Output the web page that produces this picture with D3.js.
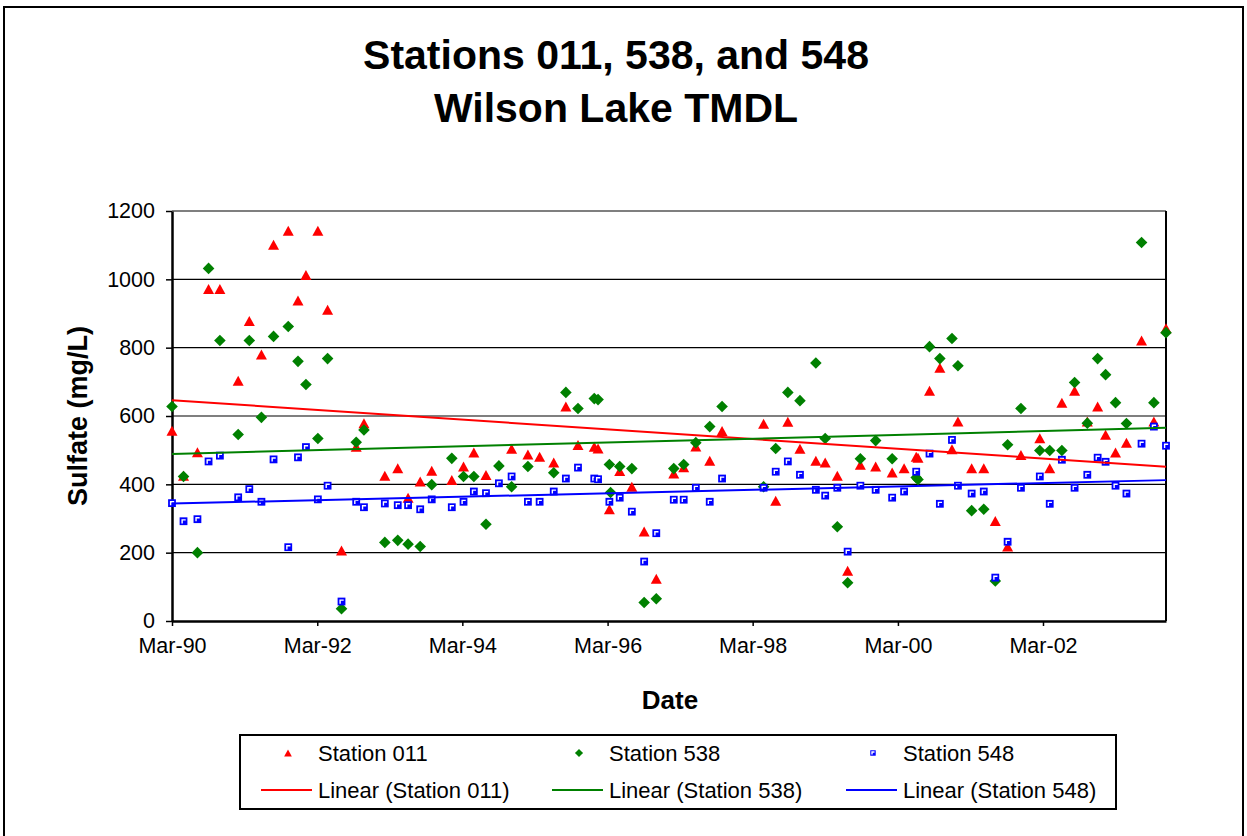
<!DOCTYPE html>
<html>
<head>
<meta charset="utf-8">
<script src="https://cdn.jsdelivr.net/npm/d3@7"></script>
<style>
    body { margin: 0; background: #fff; }
    text { font-family: "Liberation Sans", Arial, sans-serif; fill: #000; }
</style>
</head>
<body>
<script>

    // sample dates (shared by the three stations)
    var dates = [
        "1990-03-01", "1990-04-28", "1990-07-07", "1990-09-01", "1990-10-28",
        "1991-01-28", "1991-03-25", "1991-05-25", "1991-07-25", "1991-10-07",
        "1991-11-25", "1992-01-04", "1992-03-04", "1992-04-22", "1992-07-01",
        "1992-09-13", "1992-10-22", "1993-02-04", "1993-04-10", "1993-06-01",
        "1993-08-01", "1993-09-28", "1994-01-07", "1994-03-07", "1994-04-28",
        "1994-06-28", "1994-09-01", "1994-11-04", "1995-01-25", "1995-03-25",
        "1995-06-04", "1995-08-04", "1995-10-04", "1995-12-25", "1996-01-13",
        "1996-03-10", "1996-03-16", "1996-05-01", "1996-07-01", "1996-09-01",
        "1996-11-01", "1997-01-28", "1997-03-19", "1997-05-19", "1997-07-28",
        "1997-09-28", "1998-04-25", "1998-06-25", "1998-08-25", "1998-10-25",
        "1999-01-13", "1999-03-01", "1999-05-01", "1999-06-22", "1999-08-25",
        "1999-11-10", "2000-02-01", "2000-04-01", "2000-06-01", "2000-06-10",
        "2000-08-07", "2000-09-28", "2000-11-28", "2000-12-28", "2001-03-07",
        "2001-05-07", "2001-07-04", "2001-09-04", "2001-11-10", "2002-02-13",
        "2002-04-04", "2002-06-04", "2002-08-07", "2002-10-10", "2002-12-01",
        "2003-01-10", "2003-03-01", "2003-04-25", "2003-07-10", "2003-09-10",
        "2003-11-10"
    ];

    // sulfate, mg/L (null = no sample)
    var station011 = [
        557, 425, 494, 972, 972, 703, 878, 780, 1101, 1142,
        938, 1013, 1142, 911, 206, 510, 579, 425, 447, 361,
        408, 440, 413, 452, 493, 427, null, 504, 487, 481,
        464, 628, 515, 510, 505, 327, null, 439, 393, 262,
        124, 432, 450, 511, 469, 556, 577, 352, 583, 504,
        469, 464, 425, 147, 457, 452, 435, 447, 481, 478,
        674, 741, 503, 584, 447, 447, 293, 218, 486, 535,
        447, 639, 674, 584, 628, 545, 493, 522, 821, 584,
        857
    ];
    var station538 = [
        628, 423, 200, 1032, 821, 546, 821, 596, 833, 862,
        760, 692, 534, 768, 36, 523, 559, 230, 236, 225,
        218, 399, 476, 423, 423, 283, 454, 393, 452, null,
        434, 669, 622, 651, 648, 458, 376, 452, 446, 54,
        65, 446, 458, 522, 569, 628, 393, 505, 669, 645,
        755, 534, 276, 112, 475, 528, 475, null, 420, 414,
        803, 768, 827, 747, 323, 327, 117, 516, 622, 499,
        499, 499, 698, 579, 768, 721, 639, 578, 1108, 639,
        844
    ];
    var station548 = [
        345, 292, 298, 467, 484, 362, 386, 349, 473, 216,
        479, 509, 356, 396, 57, 349, 333, 344, 339, 339,
        327, 356, 333, 349, 379, 374, 403, 423, 349, 349,
        379, 417, 449, 417, 415, 349, null, 361, 320, 174,
        257, 355, 355, 390, 349, 417, 390, 437, 467, 428,
        384, 367, 390, 203, 396, 384, 361, 379, 437, null,
        490, 343, 530, 396, 373, 379, 127, 232, 390, 423,
        343, 472, 390, 428, 478, 466, 396, 373, 519, 569,
        513
    ];

    var seriesNames = ["Station 011", "Station 538", "Station 548"];
    var seriesValues = [station011, station538, station548];
    var colours = ["#ff0000", "#008000", "#0000ff"];
    var shapes = ["triangle", "diamond", "square"];

    var yTicks = [0, 200, 400, 600, 800, 1000, 1200];
    var xTickDates = ["1990-03-01", "1992-03-01", "1994-03-01", "1996-03-01",
                      "1998-03-01", "2000-03-01", "2002-03-01"];

    // layout
    var width = 1247, height = 836;
    var plot = { left: 172, right: 1166, top: 211, bottom: 621 };

    var parseDate = d3.timeParse("%Y-%m-%d");
    var dateObjs = dates.map(parseDate);

    var svg = d3.select("body").append("svg")
        .attr("width", width)
        .attr("height", height);

    svg.append("rect")
        .attr("width", width).attr("height", height)
        .attr("fill", "#fff");

    // chart area border (bottom runs off the picture)
    svg.append("rect")
        .attr("x", 4).attr("y", 7)
        .attr("width", 1239).attr("height", 845)
        .attr("fill", "none")
        .attr("stroke", "#000")
        .attr("stroke-width", 2);

    // title
    var title = svg.append("text")
        .attr("text-anchor", "middle")
        .style("font-size", "41px")
        .style("font-weight", "bold");
    title.append("tspan").attr("x", 616).attr("y", 69).text("Stations 011, 538, and 548");
    title.append("tspan").attr("x", 616).attr("y", 122).text("Wilson Lake TMDL");

    var x = d3.scaleTime()
        .domain([dateObjs[0], dateObjs[dateObjs.length - 1]])
        .range([plot.left, plot.right]);

    var y = d3.scaleLinear()
        .domain([0, 1200])
        .range([plot.bottom, plot.top]);

    // gridlines
    svg.append("g")
        .selectAll("line")
        .data(yTicks.filter(function (d) { return d > 0; }))
        .join("line")
        .attr("x1", plot.left).attr("x2", plot.right)
        .attr("y1", function (d) { return y(d); })
        .attr("y2", function (d) { return y(d); })
        .attr("stroke", "#000")
        .attr("stroke-width", 1.2);

    // right edge of plot area
    svg.append("line")
        .attr("x1", plot.right).attr("x2", plot.right)
        .attr("y1", plot.top).attr("y2", plot.bottom)
        .attr("stroke", "#000").attr("stroke-width", 2);

    // y axis
    var yAxis = d3.axisLeft(y)
        .tickValues(yTicks)
        .tickFormat(d3.format("d"))
        .tickSize(6)
        .tickSizeOuter(0)
        .tickPadding(11);

    var yAxisGroup = svg.append("g")
        .attr("transform", "translate(" + plot.left + ",0)")
        .call(yAxis);
    yAxisGroup.select(".domain").attr("stroke-width", 2.5);
    yAxisGroup.selectAll(".tick line").attr("stroke-width", 1.5);
    yAxisGroup.selectAll(".tick text")
        .style("font-size", "21.5px")
        .attr("fill", "#000");
    yAxisGroup.attr("font-family", null);

    // x axis
    var xAxis = d3.axisBottom(x)
        .tickValues(xTickDates.map(parseDate))
        .tickFormat(d3.timeFormat("%b-%y"))
        .tickSize(5)
        .tickSizeOuter(0)
        .tickPadding(12);

    var xAxisGroup = svg.append("g")
        .attr("transform", "translate(0," + plot.bottom + ")")
        .call(xAxis);
    xAxisGroup.select(".domain").attr("stroke-width", 2.5);
    xAxisGroup.selectAll(".tick line").attr("stroke-width", 1.5);
    xAxisGroup.selectAll(".tick text")
        .style("font-size", "21.5px")
        .attr("fill", "#000");
    xAxisGroup.attr("font-family", null);

    // axis titles
    svg.append("text")
        .attr("transform", "translate(78,416) rotate(-90)")
        .attr("text-anchor", "middle")
        .attr("dy", "0.35em")
        .style("font-size", "27px")
        .style("font-weight", "bold")
        .text("Sulfate (mg/L)");

    svg.append("text")
        .attr("x", 670).attr("y", 700)
        .attr("text-anchor", "middle")
        .attr("dy", "0.35em")
        .style("font-size", "26px")
        .style("font-weight", "bold")
        .text("Date");

    // marker drawing
    function drawMarker(g, shape, colour, size) {
        if (shape == "triangle") {
            var h = size, w = size * 0.55;
            g.append("path")
                .attr("d", "M0," + (-h / 2) + "L" + w + "," + (h / 2) + "L" + (-w) + "," + (h / 2) + "Z")
                .attr("fill", colour);
        } else if (shape == "diamond") {
            var r = size * 0.58;
            g.append("path")
                .attr("d", "M0," + (-r) + "L" + r + ",0L0," + r + "L" + (-r) + ",0Z")
                .attr("fill", colour);
        } else {
            var s = size * 0.78;
            g.append("rect")
                .attr("x", -s / 2).attr("y", -s / 2)
                .attr("width", s).attr("height", s)
                .attr("fill", colour);
            g.append("path")
                .attr("d", "M" + (-s * 0.18) + "," + (s * 0.28) + "V" + (-s * 0.18) + "H" + (s * 0.28))
                .attr("fill", "none")
                .attr("stroke", "#fff")
                .attr("stroke-width", 1.4);
        }
    }

    // scatter points, one series after the other
    seriesValues.forEach(function (vals, i) {
        var pts = dateObjs
            .map(function (d, k) { return { date: d, value: vals[k] }; })
            .filter(function (p) { return p.value != null; });

        svg.append("g")
            .selectAll("g")
            .data(pts)
            .join("g")
            .attr("transform", function (p) { return "translate(" + x(p.date) + "," + y(p.value) + ")"; })
            .each(function () { drawMarker(d3.select(this), shapes[i], colours[i], 10); });
    });

    // least-squares trend lines over the sampled range
    seriesValues.forEach(function (vals, i) {
        var pts = dateObjs
            .map(function (d, k) { return [d.getTime(), vals[k]]; })
            .filter(function (p) { return p[1] != null; });
        var mx = d3.mean(pts, function (p) { return p[0]; });
        var my = d3.mean(pts, function (p) { return p[1]; });
        var sxy = d3.sum(pts, function (p) { return (p[0] - mx) * (p[1] - my); });
        var sxx = d3.sum(pts, function (p) { return (p[0] - mx) * (p[0] - mx); });
        var slope = sxy / sxx, intercept = my - slope * mx;

        var ends = d3.extent(pts, function (p) { return p[0]; });
        svg.append("path")
            .datum(ends)
            .attr("d", d3.line()
                .x(function (t) { return x(new Date(t)); })
                .y(function (t) { return y(intercept + slope * t); }))
            .attr("fill", "none")
            .attr("stroke", colours[i])
            .attr("stroke-width", 2);
    });

    // legend
    var legend = svg.append("g").attr("transform", "translate(240,735)");
    legend.append("rect")
        .attr("width", 876).attr("height", 74)
        .attr("fill", "#fff")
        .attr("stroke", "#000")
        .attr("stroke-width", 2);

    var colX = [0, 291, 585];
    seriesNames.forEach(function (name, i) {
        var item = legend.append("g").attr("transform", "translate(" + colX[i] + ",0)");

        var m = item.append("g").attr("transform", "translate(48,18)");
        drawMarker(m, shapes[i], colours[i], 7);
        item.append("text")
            .attr("x", 78).attr("y", 18)
            .attr("dy", "0.35em")
            .style("font-size", "22px")
            .text(name);

        item.append("line")
            .attr("x1", 21).attr("x2", 72)
            .attr("y1", 55).attr("y2", 55)
            .attr("stroke", colours[i])
            .attr("stroke-width", 2);
        item.append("text")
            .attr("x", 78).attr("y", 55)
            .attr("dy", "0.35em")
            .style("font-size", "22px")
            .text("Linear (" + name + ")");
    });

</script>
</body>
</html>
